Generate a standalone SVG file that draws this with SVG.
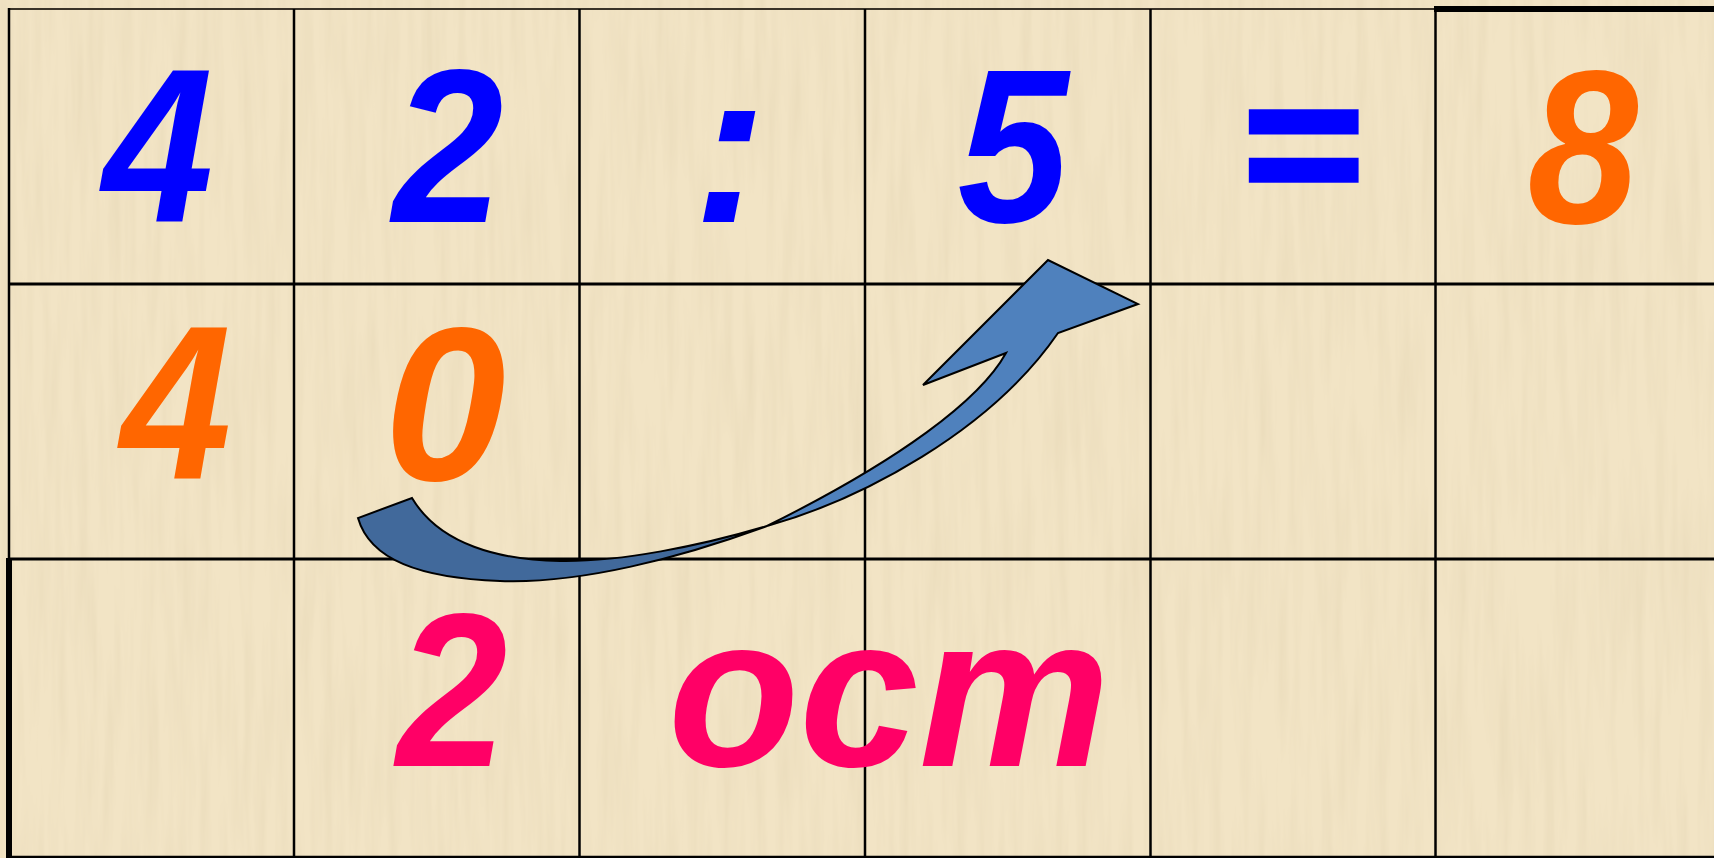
<svg xmlns="http://www.w3.org/2000/svg" width="1714" height="858" viewBox="0 0 1714 858">
<defs>
<filter id="tex" x="0" y="0" width="100%" height="100%">
<feTurbulence type="fractalNoise" baseFrequency="0.09 0.006" numOctaves="3" seed="7"/>
<feColorMatrix type="matrix" values="0 0 0 0 0.62  0 0 0 0 0.52  0 0 0 0 0.32  0.35 0 0 0 -0.13"/>
</filter>
<style>
.g{stroke:#000;stroke-width:2.5;fill:none}
.t{font-family:"Liberation Sans",Arial,sans-serif;font-weight:bold;font-style:italic;font-size:219px;text-anchor:middle}
.b{fill:#0000FF}.o{fill:#FF6600}.p{fill:#FF0066}
.ar{stroke:#000;stroke-width:2;stroke-linejoin:miter}
</style>
</defs>
<rect width="1714" height="858" fill="#F2E4C5"/>
<rect width="1714" height="858" filter="url(#tex)"/>
<g id="grid">
<line class="g" x1="8" y1="9" x2="1435" y2="9" style="stroke:#3a3328;stroke-width:1.8"/>
<line class="g" x1="1434" y1="9" x2="1714" y2="9" style="stroke-width:6"/>
<line class="g" x1="9" y1="8" x2="9" y2="559"/>
<line class="g" x1="9" y1="558" x2="9" y2="858" style="stroke-width:6"/>
<line class="g" x1="8" y1="284" x2="1714" y2="284" style="stroke-width:3"/>
<line class="g" x1="8" y1="559" x2="1714" y2="559" style="stroke-width:3"/>
<line class="g" x1="6" y1="857" x2="1714" y2="857"/>
<line class="g" x1="294" y1="9" x2="294" y2="858"/>
<line class="g" x1="579.5" y1="9" x2="579.5" y2="858"/>
<line class="g" x1="865" y1="9" x2="865" y2="858"/>
<line class="g" x1="1150.5" y1="9" x2="1150.5" y2="858"/>
<line class="g" x1="1435.5" y1="9" x2="1435.5" y2="858"/>
</g>
<g id="row1">
<text class="t b" x="0" y="0" transform="translate(158,222) scale(0.91,1)">4</text>
<text class="t b" x="0" y="0" transform="translate(448,222) scale(0.91,1)">2</text>
<text class="t b" x="730" y="222">:</text>
<text class="t b" x="0" y="0" transform="translate(1013,222) scale(0.91,1)">5</text>
<text class="t b" x="1300" y="222" transform="translate(1300,146.5) scale(0.94,0.82) translate(-1300,-150)" style="stroke:#0000FF;stroke-width:7">=</text>
<text class="t o" x="0" y="0" transform="translate(1583,223) scale(0.91,1)">8</text>
</g>
<g id="row2">
<text class="t o" x="0" y="0" transform="translate(176,479) scale(0.91,1)">4</text>
<text class="t o" x="445" y="480">0</text>
</g>
<g id="row3">
<text class="t p" x="0" y="0" transform="translate(452,766) scale(0.91,1)">2</text>
<text class="t p" x="668" y="766" style="text-anchor:start;font-size:215px">ост</text>
</g>
<g id="connectors">
<path class="ar" fill="#41699B" d="M358,518 C370,560 420,578 500,581 C580,584 680,558 767,526 C700,546 620,562 560,561 C500,560 440,545 412,498 Z"/>
<path class="ar" fill="#4F81BD" d="M767,526 C860,500 990,432 1058,333 L1138,304 L1048,260 L923,385 L1006,353 C980,400 900,460 767,526 Z"/>
</g>
</svg>
